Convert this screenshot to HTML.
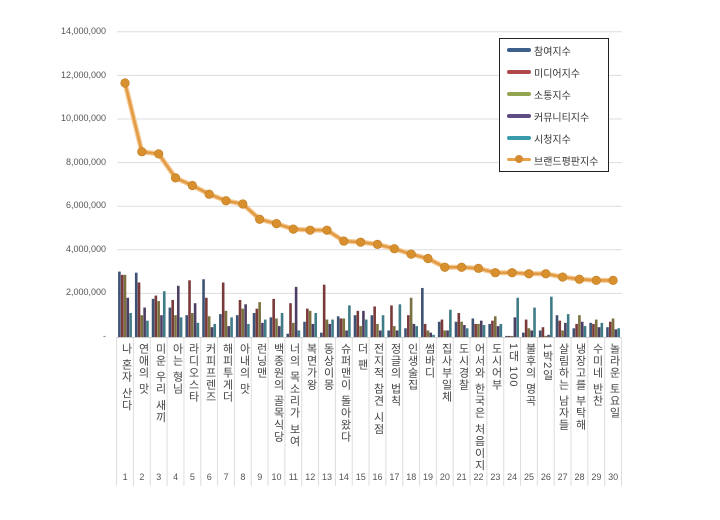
<!DOCTYPE html>
<html><head><meta charset="utf-8">
<style>
body{margin:0;background:#fff;width:720px;height:520px;overflow:hidden;position:relative;font-family:"Liberation Sans","Noto Sans CJK KR",sans-serif;}
svg{position:absolute;left:0;top:0}
.lab{position:absolute;top:343px;writing-mode:vertical-rl;font-size:11px;color:#444;line-height:13px;width:14px;white-space:nowrap;letter-spacing:1px}
.num{position:absolute;top:472px;font-size:9px;color:#555;width:17px;text-align:center}
.yl{position:absolute;left:20px;width:86px;text-align:right;font-size:9px;color:#555}
.leg{position:absolute;left:499px;top:38px;width:108px;height:132px;border:1px solid #222;background:#fff}
.li{position:absolute;left:34px;font-size:10px;color:#333}
.sw{position:absolute;left:7px;width:24px;height:4px;border-radius:2px}
</style></head><body>
<svg id="s" width="720" height="520"></svg>
<div class="yl" style="top:26px">14,000,000</div>
<div class="yl" style="top:70px">12,000,000</div>
<div class="yl" style="top:113px">10,000,000</div>
<div class="yl" style="top:157px">8,000,000</div>
<div class="yl" style="top:200px">6,000,000</div>
<div class="yl" style="top:244px">4,000,000</div>
<div class="yl" style="top:287px">2,000,000</div>
<div class="yl" style="top:331px">-</div>
<div id="labs">
<div class="lab" style="left:118px">나 혼자 산다</div>
<div class="lab" style="left:135px">연애의 맛</div>
<div class="lab" style="left:152px">미운 우리 새끼</div>
<div class="lab" style="left:169px">아는 형님</div>
<div class="lab" style="left:185px">라디오스타</div>
<div class="lab" style="left:202px">커피프렌즈</div>
<div class="lab" style="left:219px">해피투게더</div>
<div class="lab" style="left:236px">아내의 맛</div>
<div class="lab" style="left:253px">런닝맨</div>
<div class="lab" style="left:270px">백종원의 골목식당</div>
<div class="lab" style="left:286px">너의 목소리가 보여</div>
<div class="lab" style="left:303px">복면가왕</div>
<div class="lab" style="left:320px">동상이몽</div>
<div class="lab" style="left:337px">슈퍼맨이 돌아왔다</div>
<div class="lab" style="left:354px">더 팬</div>
<div class="lab" style="left:370px">전지적 참견 시점</div>
<div class="lab" style="left:387px">정글의 법칙</div>
<div class="lab" style="left:404px">인생술집</div>
<div class="lab" style="left:421px">썸바디</div>
<div class="lab" style="left:438px">집사부일체</div>
<div class="lab" style="left:455px">도시경찰</div>
<div class="lab" style="left:471px">어서와 한국은 처음이지</div>
<div class="lab" style="left:488px">도시어부</div>
<div class="lab" style="left:505px">1대 100</div>
<div class="lab" style="left:522px">불후의 명곡</div>
<div class="lab" style="left:539px">1박2일</div>
<div class="lab" style="left:555px">살림하는 남자들</div>
<div class="lab" style="left:572px">냉장고를 부탁해</div>
<div class="lab" style="left:589px">수미네 반찬</div>
<div class="lab" style="left:606px">놀라운 토요일</div>
</div>
<div id="nums"></div>
<div class="leg">
<div class="sw" style="top:9px;background:#3d5f8c"></div><div class="li" style="top:4px">참여지수</div>
<div class="sw" style="top:31px;background:#b04a4a"></div><div class="li" style="top:26px">미디어지수</div>
<div class="sw" style="top:53px;background:#93a550"></div><div class="li" style="top:48px">소통지수</div>
<div class="sw" style="top:75px;background:#5e4d82"></div><div class="li" style="top:70px">커뮤니티지수</div>
<div class="sw" style="top:97px;background:#3a9bab"></div><div class="li" style="top:92px">시청지수</div>
<div class="sw" style="top:119px;height:3px;background:#e9a24a"></div><div style="position:absolute;left:15px;top:116px;width:8px;height:8px;border-radius:50%;background:#d48a30"></div><div class="li" style="top:114px">브랜드평판지수</div>
</div>
<script>
var s=document.getElementById('s'),h='';
function Y(v){return 337-v*21.8}
for(var i=1;i<=7;i++){var y=337-i*43.6;h+='<line x1="117" x2="622" y1="'+y+'" y2="'+y+'" stroke="#ddd" stroke-width="1"/>';}
h+='<line x1="117" x2="622" y1="337.5" y2="337.5" stroke="#ccc"/>';
var W=16.83,L=116.6;
for(var i=0;i<=30;i++){var x=L+i*W;h+='<line x1="'+x+'" x2="'+x+'" y1="337" y2="486" stroke="#ddd"/>';}
var B=[[3,2.85,2.85,1.8,1.1],[2.95,2.5,1,1.35,.75],[1.75,1.9,1.65,1,2.1],[1.35,1.7,1,2.35,.9],[1,2.6,1.1,1.55,.65],[2.65,1.8,.95,.45,.6],[1.05,2.5,1.2,.5,.9],[1,1.7,1.3,1.5,.6],[1.1,1.3,1.6,.65,.8],[.9,1.75,.85,.5,1.1],[.15,1.55,.65,2.3,.3],[.7,1.3,1.2,.6,1.1],[.2,2.4,.8,.6,.8],[.95,.85,.85,.3,1.45],[1,1.2,.5,1.2,.8],[1,1.4,.6,.3,1],[.3,1.45,.5,.3,1.5],[.4,1,1.8,.6,.5],[2.25,.6,.3,.2,.1],[.7,.8,.3,.3,1.25],[.7,1.1,.7,.55,.4],[.85,.6,.6,.75,.55],[.6,.75,.95,.5,.6],[.05,.05,.05,.9,1.8],[.2,.8,.4,.3,1.35],[.3,.45,.05,.1,1.85],[1,.75,.3,.65,1.05],[.4,.6,1,.7,.5],[.65,.6,.8,.45,.65],[.45,.7,.85,.35,.4]];
var C=['#3e5373','#7a3a3a','#7a7040','#4d3f63','#3f7c88'];
for(var i=0;i<30;i++){for(var j=0;j<5;j++){var x=L+i*W+1.5+j*2.8,v=B[i][j];h+='<rect x="'+x+'" y="'+Y(v)+'" width="2.6" height="'+(v*21.8)+'" fill="'+C[j]+'"/>';}}
var V=[11.65,8.5,8.4,7.3,6.95,6.55,6.25,6.1,5.4,5.2,4.95,4.9,4.9,4.4,4.35,4.25,4.05,3.8,3.6,3.2,3.2,3.15,2.95,2.95,2.9,2.9,2.75,2.65,2.6,2.6];
var p='';for(var i=0;i<30;i++){p+=(L+(i+.5)*W)+','+Y(V[i])+' ';}
h+='<polyline points="'+p+'" fill="none" stroke="#f3c890" stroke-width="5"/><polyline points="'+p+'" fill="none" stroke="#e39a45" stroke-width="2.5"/>';
for(var i=0;i<30;i++){h+='<circle cx="'+(L+(i+.5)*W)+'" cy="'+Y(V[i])+'" r="4.3" fill="#d8902f" stroke="#c07a20" stroke-width=".6"/>';}
s.innerHTML=h;
var n='';for(var i=1;i<=30;i++)n+='<div class="num" style="left:'+(L+(i-1)*W)+'px">'+i+'</div>';
document.getElementById('nums').innerHTML=n;
</script>
</body></html>
